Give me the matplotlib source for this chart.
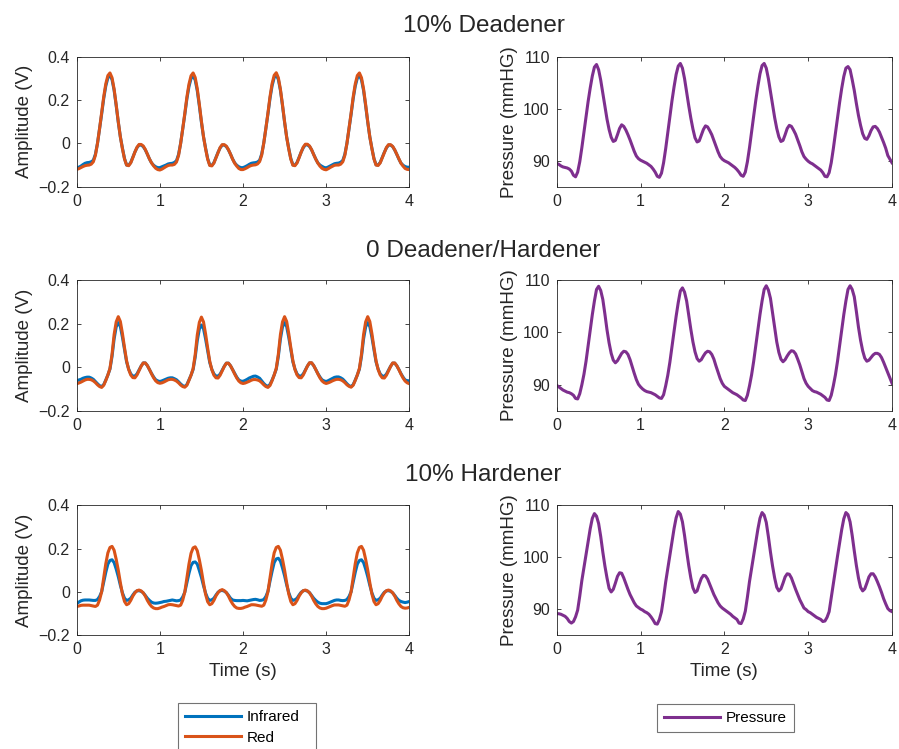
import matplotlib
matplotlib.use("Agg")
import matplotlib.pyplot as plt
import numpy as np

plt.rcParams["font.family"] = ["Liberation Sans", "DejaVu Sans"]

# sampling times (s), one value every 0.025 s
time_s = np.linspace(0, 4, 161)

row_titles = ["10% Deadener", "0 Deadener/Hardener", "10% Hardener"]

# ---- 10% Deadener ----
dead_ir = [
    -0.115, -0.110, -0.105, -0.098, -0.092, -0.089, -0.088, -0.085, -0.078, -0.050,
    0.000, 0.066, 0.135, 0.207, 0.265, 0.302, 0.315, 0.294, 0.245, 0.174,
    0.098, 0.030, -0.022, -0.070, -0.100, -0.101, -0.088, -0.064, -0.040, -0.020,
    -0.008, -0.008, -0.015, -0.030, -0.050, -0.072, -0.090, -0.101, -0.108, -0.112,
    -0.112, -0.108, -0.104, -0.100, -0.095, -0.093, -0.092, -0.088, -0.080, -0.051,
    0.000, 0.065, 0.133, 0.205, 0.262, 0.299, 0.312, 0.292, 0.243, 0.173,
    0.097, 0.030, -0.022, -0.070, -0.100, -0.102, -0.089, -0.065, -0.041, -0.021,
    -0.008, -0.008, -0.015, -0.030, -0.050, -0.072, -0.090, -0.101, -0.108, -0.112,
    -0.112, -0.108, -0.103, -0.097, -0.092, -0.090, -0.089, -0.086, -0.078, -0.049,
    0.002, 0.068, 0.136, 0.208, 0.266, 0.303, 0.316, 0.295, 0.245, 0.174,
    0.098, 0.029, -0.023, -0.070, -0.099, -0.100, -0.088, -0.064, -0.040, -0.020,
    -0.007, -0.007, -0.014, -0.030, -0.051, -0.072, -0.090, -0.100, -0.106, -0.111,
    -0.113, -0.109, -0.104, -0.099, -0.094, -0.092, -0.091, -0.087, -0.079, -0.050,
    0.000, 0.066, 0.134, 0.206, 0.264, 0.301, 0.314, 0.293, 0.244, 0.173,
    0.098, 0.030, -0.022, -0.070, -0.099, -0.100, -0.088, -0.064, -0.041, -0.021,
    -0.008, -0.008, -0.015, -0.031, -0.051, -0.073, -0.091, -0.101, -0.107, -0.110,
    -0.110,
]
dead_red = [
    -0.120, -0.117, -0.112, -0.107, -0.103, -0.101, -0.100, -0.096, -0.085, -0.055,
    0.000, 0.068, 0.140, 0.215, 0.275, 0.313, 0.325, 0.303, 0.250, 0.178,
    0.100, 0.030, -0.025, -0.072, -0.100, -0.103, -0.090, -0.066, -0.040, -0.018,
    -0.005, -0.005, -0.012, -0.028, -0.050, -0.072, -0.090, -0.104, -0.115, -0.121,
    -0.123, -0.119, -0.113, -0.107, -0.102, -0.100, -0.100, -0.097, -0.086, -0.056,
    0.000, 0.067, 0.138, 0.213, 0.273, 0.312, 0.325, 0.304, 0.252, 0.180,
    0.102, 0.031, -0.025, -0.073, -0.102, -0.104, -0.091, -0.067, -0.042, -0.019,
    -0.006, -0.006, -0.013, -0.029, -0.050, -0.073, -0.092, -0.105, -0.116, -0.121,
    -0.121, -0.117, -0.112, -0.106, -0.102, -0.100, -0.099, -0.095, -0.084, -0.054,
    0.002, 0.069, 0.140, 0.216, 0.276, 0.314, 0.326, 0.303, 0.250, 0.178,
    0.100, 0.029, -0.026, -0.073, -0.101, -0.103, -0.090, -0.066, -0.040, -0.017,
    -0.004, -0.004, -0.012, -0.029, -0.052, -0.073, -0.091, -0.105, -0.115, -0.120,
    -0.122, -0.117, -0.111, -0.106, -0.101, -0.100, -0.100, -0.096, -0.085, -0.055,
    0.000, 0.068, 0.139, 0.214, 0.274, 0.313, 0.325, 0.303, 0.251, 0.179,
    0.101, 0.030, -0.024, -0.072, -0.100, -0.102, -0.090, -0.066, -0.041, -0.019,
    -0.006, -0.006, -0.014, -0.030, -0.051, -0.073, -0.092, -0.105, -0.116, -0.120,
    -0.121,
]
dead_press = [
    89.5, 89.3, 89.0, 88.8, 88.7, 88.6, 88.4, 88.0, 87.2, 86.9,
    87.8, 89.8, 92.5, 95.5, 98.5, 101.4, 104.0, 106.3, 108.0, 108.5,
    107.5, 105.5, 103.0, 100.4, 98.0, 96.0, 94.5, 93.7, 93.9, 95.0,
    96.2, 96.9, 96.6, 95.9, 95.0, 94.0, 92.9, 91.8, 90.9, 90.4,
    90.1, 89.9, 89.7, 89.5, 89.2, 88.9, 88.4, 87.8, 87.0, 86.8,
    87.6, 89.6, 92.3, 95.4, 98.5, 101.5, 104.2, 106.6, 108.2, 108.7,
    107.8, 105.8, 103.2, 100.6, 98.2, 96.1, 94.4, 93.6, 93.8, 94.9,
    96.0, 96.7, 96.5, 95.8, 95.0, 93.9, 92.8, 91.7, 90.8, 90.3,
    90.0, 89.8, 89.6, 89.3, 89.0, 88.7, 88.3, 87.8, 87.2, 87.0,
    87.8, 89.8, 92.5, 95.6, 98.6, 101.6, 104.3, 106.7, 108.3, 108.7,
    107.8, 105.8, 103.3, 100.7, 98.3, 96.2, 94.6, 93.7, 93.9, 95.0,
    96.2, 96.8, 96.6, 95.9, 95.1, 94.0, 92.9, 91.7, 90.8, 90.3,
    89.9, 89.6, 89.4, 89.1, 88.8, 88.5, 88.2, 87.7, 87.0, 86.9,
    87.7, 89.6, 92.3, 95.3, 98.3, 101.2, 103.9, 106.2, 107.8, 108.1,
    107.5, 105.6, 103.5, 101.0, 98.7, 96.8, 95.2, 94.3, 94.1, 94.8,
    95.8, 96.5, 96.6, 96.2, 95.5, 94.5, 93.5, 92.4, 91.0, 90.3,
    89.6,
]

# ---- 0 Deadener/Hardener ----
neutral_ir = [
    -0.062, -0.058, -0.055, -0.050, -0.047, -0.045, -0.045, -0.049, -0.055, -0.065,
    -0.075, -0.084, -0.088, -0.079, -0.058, -0.035, -0.008, 0.050, 0.130, 0.185,
    0.205, 0.187, 0.138, 0.080, 0.025, -0.008, -0.030, -0.040, -0.040, -0.030,
    -0.012, 0.006, 0.020, 0.020, 0.008, -0.010, -0.028, -0.044, -0.057, -0.062,
    -0.065, -0.062, -0.058, -0.054, -0.050, -0.048, -0.048, -0.052, -0.057, -0.066,
    -0.076, -0.084, -0.088, -0.079, -0.058, -0.036, -0.010, 0.046, 0.122, 0.175,
    0.194, 0.177, 0.130, 0.075, 0.022, -0.009, -0.030, -0.040, -0.040, -0.031,
    -0.013, 0.005, 0.019, 0.019, 0.007, -0.010, -0.028, -0.045, -0.058, -0.063,
    -0.064, -0.060, -0.055, -0.049, -0.045, -0.041, -0.040, -0.044, -0.050, -0.062,
    -0.074, -0.083, -0.087, -0.078, -0.058, -0.035, -0.008, 0.050, 0.130, 0.185,
    0.205, 0.187, 0.138, 0.080, 0.025, -0.008, -0.030, -0.040, -0.040, -0.030,
    -0.012, 0.006, 0.020, 0.020, 0.008, -0.010, -0.028, -0.044, -0.057, -0.062,
    -0.065, -0.061, -0.056, -0.051, -0.046, -0.044, -0.044, -0.048, -0.054, -0.064,
    -0.075, -0.084, -0.088, -0.079, -0.058, -0.035, -0.008, 0.050, 0.130, 0.185,
    0.205, 0.187, 0.138, 0.080, 0.025, -0.008, -0.030, -0.040, -0.041, -0.031,
    -0.013, 0.005, 0.019, 0.019, 0.007, -0.010, -0.029, -0.045, -0.058, -0.061,
    -0.062,
]
neutral_red = [
    -0.075, -0.072, -0.068, -0.063, -0.058, -0.055, -0.055, -0.057, -0.062, -0.070,
    -0.080, -0.088, -0.092, -0.082, -0.060, -0.035, -0.005, 0.060, 0.150, 0.208,
    0.232, 0.210, 0.155, 0.090, 0.030, -0.010, -0.035, -0.047, -0.048, -0.035,
    -0.015, 0.005, 0.020, 0.020, 0.008, -0.010, -0.030, -0.048, -0.062, -0.070,
    -0.073, -0.071, -0.067, -0.062, -0.057, -0.055, -0.055, -0.058, -0.063, -0.071,
    -0.081, -0.088, -0.091, -0.082, -0.060, -0.036, -0.006, 0.058, 0.148, 0.206,
    0.230, 0.208, 0.153, 0.088, 0.028, -0.011, -0.036, -0.048, -0.049, -0.036,
    -0.016, 0.004, 0.019, 0.019, 0.007, -0.011, -0.031, -0.049, -0.063, -0.071,
    -0.074, -0.072, -0.068, -0.064, -0.059, -0.056, -0.056, -0.058, -0.062, -0.070,
    -0.080, -0.088, -0.092, -0.083, -0.061, -0.035, -0.005, 0.060, 0.150, 0.208,
    0.232, 0.210, 0.155, 0.090, 0.030, -0.010, -0.035, -0.047, -0.048, -0.035,
    -0.015, 0.006, 0.021, 0.021, 0.008, -0.010, -0.030, -0.048, -0.062, -0.070,
    -0.074, -0.071, -0.067, -0.062, -0.058, -0.055, -0.055, -0.057, -0.062, -0.070,
    -0.080, -0.087, -0.091, -0.082, -0.060, -0.035, -0.005, 0.060, 0.150, 0.208,
    0.232, 0.210, 0.155, 0.090, 0.030, -0.010, -0.035, -0.048, -0.049, -0.036,
    -0.016, 0.004, 0.020, 0.020, 0.007, -0.011, -0.031, -0.049, -0.063, -0.071,
    -0.075,
]
neutral_press = [
    89.9, 89.6, 89.3, 89.0, 88.8, 88.6, 88.5, 88.3, 88.0, 87.4,
    87.3, 88.3, 90.0, 92.0, 94.5, 97.5, 100.5, 103.4, 106.0, 108.2,
    108.8, 108.0, 106.3, 103.5, 100.5, 98.0, 96.0, 94.7, 94.2, 94.6,
    95.3, 96.0, 96.4, 96.3, 95.8, 94.8, 93.5, 92.2, 91.0, 90.1,
    89.6, 89.2, 88.9, 88.7, 88.6, 88.5, 88.3, 88.1, 87.8, 87.5,
    87.4, 88.1, 89.8, 91.8, 94.3, 97.3, 100.2, 103.1, 105.7, 107.9,
    108.5, 107.7, 106.0, 103.3, 100.6, 98.2, 96.3, 95.0, 94.5, 94.8,
    95.5, 96.1, 96.4, 96.3, 95.8, 94.9, 93.6, 92.4, 91.2, 90.3,
    89.7, 89.4, 89.1, 88.8, 88.5, 88.3, 88.1, 87.8, 87.5, 87.1,
    87.0, 88.0, 89.8, 91.9, 94.5, 97.5, 100.5, 103.4, 106.0, 108.2,
    108.9, 108.1, 106.5, 103.7, 100.8, 98.2, 96.2, 94.9, 94.4, 94.8,
    95.5, 96.1, 96.5, 96.4, 95.9, 94.9, 93.8, 92.5, 91.2, 90.3,
    89.7, 89.3, 88.9, 88.7, 88.6, 88.4, 88.2, 87.9, 87.6, 87.1,
    87.0, 88.0, 89.8, 91.9, 94.5, 97.5, 100.5, 103.4, 106.0, 108.2,
    108.9, 108.2, 106.8, 104.0, 101.0, 98.5, 96.5, 95.1, 94.5, 94.7,
    95.2, 95.7, 96.0, 96.0, 95.8, 95.2, 94.3, 93.3, 92.3, 91.3,
    90.3,
]

# ---- 10% Hardener ----
hard_ir = [
    -0.055, -0.048, -0.042, -0.039, -0.038, -0.038, -0.038, -0.039, -0.040, -0.040,
    -0.036, -0.022, 0.000, 0.045, 0.090, 0.128, 0.145, 0.148, 0.135, 0.105,
    0.070, 0.030, -0.005, -0.030, -0.040, -0.037, -0.030, -0.015, -0.002, 0.004,
    0.005, 0.002, -0.005, -0.017, -0.030, -0.040, -0.048, -0.052, -0.053, -0.052,
    -0.050, -0.048, -0.045, -0.044, -0.042, -0.040, -0.038, -0.040, -0.042, -0.041,
    -0.038, -0.024, -0.002, 0.042, 0.085, 0.121, 0.136, 0.138, 0.128, 0.098,
    0.066, 0.028, -0.006, -0.030, -0.040, -0.037, -0.030, -0.015, -0.002, 0.005,
    0.006, 0.003, -0.004, -0.016, -0.030, -0.038, -0.040, -0.041, -0.041, -0.041,
    -0.040, -0.041, -0.042, -0.040, -0.038, -0.036, -0.035, -0.037, -0.040, -0.039,
    -0.036, -0.022, 0.002, 0.050, 0.095, 0.135, 0.152, 0.155, 0.142, 0.110,
    0.074, 0.032, -0.004, -0.030, -0.040, -0.037, -0.030, -0.015, -0.002, 0.005,
    0.006, 0.003, -0.004, -0.017, -0.030, -0.040, -0.048, -0.053, -0.055, -0.055,
    -0.055, -0.052, -0.048, -0.044, -0.040, -0.038, -0.038, -0.040, -0.041, -0.040,
    -0.036, -0.022, 0.000, 0.045, 0.090, 0.128, 0.145, 0.148, 0.135, 0.105,
    0.070, 0.030, -0.005, -0.030, -0.040, -0.037, -0.030, -0.015, -0.002, 0.004,
    0.005, 0.002, -0.005, -0.017, -0.030, -0.040, -0.045, -0.048, -0.050, -0.048,
    -0.045,
]
hard_red = [
    -0.068, -0.066, -0.063, -0.062, -0.062, -0.062, -0.062, -0.064, -0.066, -0.068,
    -0.062, -0.038, 0.000, 0.065, 0.130, 0.180, 0.205, 0.210, 0.192, 0.150,
    0.100, 0.042, -0.010, -0.045, -0.060, -0.055, -0.040, -0.020, -0.005, 0.005,
    0.008, 0.004, -0.005, -0.020, -0.040, -0.056, -0.068, -0.075, -0.078, -0.078,
    -0.075, -0.071, -0.068, -0.064, -0.060, -0.059, -0.060, -0.062, -0.064, -0.066,
    -0.062, -0.039, -0.001, 0.063, 0.128, 0.178, 0.203, 0.208, 0.190, 0.148,
    0.098, 0.040, -0.012, -0.046, -0.060, -0.055, -0.040, -0.019, -0.004, 0.006,
    0.010, 0.005, -0.004, -0.020, -0.040, -0.056, -0.068, -0.075, -0.077, -0.077,
    -0.075, -0.071, -0.068, -0.064, -0.060, -0.060, -0.061, -0.063, -0.065, -0.067,
    -0.062, -0.038, 0.000, 0.065, 0.130, 0.180, 0.205, 0.210, 0.192, 0.150,
    0.100, 0.042, -0.010, -0.045, -0.060, -0.055, -0.040, -0.020, -0.005, 0.005,
    0.008, 0.004, -0.005, -0.020, -0.040, -0.056, -0.068, -0.075, -0.078, -0.078,
    -0.076, -0.072, -0.068, -0.064, -0.061, -0.061, -0.061, -0.063, -0.065, -0.067,
    -0.062, -0.038, 0.000, 0.065, 0.130, 0.180, 0.205, 0.210, 0.192, 0.150,
    0.100, 0.042, -0.010, -0.045, -0.060, -0.055, -0.040, -0.020, -0.005, 0.005,
    0.008, 0.004, -0.005, -0.020, -0.040, -0.056, -0.068, -0.074, -0.076, -0.075,
    -0.072,
]
hard_press = [
    89.1, 89.1, 89.0, 88.8, 88.6, 88.2, 87.6, 87.3, 87.6, 88.5,
    89.8, 92.5, 95.5, 98.0, 100.5, 103.0, 105.5, 107.5, 108.4, 107.9,
    106.5, 104.0, 101.0, 98.3, 96.0, 94.0, 93.3, 93.8, 95.0, 96.3,
    97.0, 96.9, 96.0, 94.9, 93.8, 92.8, 92.0, 91.2, 90.6, 90.3,
    90.0, 89.8, 89.5, 89.3, 89.0, 88.5, 87.9, 87.2, 87.1, 88.0,
    89.5, 92.2, 95.2, 97.8, 100.3, 102.9, 105.5, 107.6, 108.8, 108.3,
    106.8, 104.2, 101.2, 98.4, 96.0, 94.1, 93.2, 93.5, 94.8, 95.9,
    96.5, 96.4, 95.8, 94.8, 93.8, 92.8, 92.0, 91.2, 90.6, 90.2,
    89.9, 89.6, 89.3, 89.0, 88.6, 88.3, 88.0, 87.3, 87.2, 88.1,
    89.6, 92.3, 95.3, 97.8, 100.3, 102.9, 105.4, 107.5, 108.6, 108.1,
    106.7, 104.0, 101.0, 98.3, 96.0, 94.2, 93.5, 93.9, 95.0, 96.2,
    96.8, 96.7, 96.0, 94.9, 93.8, 92.8, 91.8, 91.0, 90.2, 89.9,
    89.5, 89.3, 89.0, 88.7, 88.4, 88.2, 88.0, 87.6, 87.7, 88.4,
    89.5, 92.2, 95.0, 97.6, 100.2, 102.8, 105.3, 107.4, 108.6, 108.2,
    106.8, 104.2, 101.2, 98.4, 96.0, 94.2, 93.5, 93.9, 95.0, 96.2,
    96.8, 96.8, 96.2, 95.3, 94.3, 93.2, 92.0, 91.0, 90.1, 89.7,
    89.5,
]

ir_rows = [dead_ir, neutral_ir, hard_ir]
red_rows = [dead_red, neutral_red, hard_red]
press_rows = [dead_press, neutral_press, hard_press]

amp_ticks = [-0.2, 0, 0.2, 0.4]
press_ticks = [90, 100, 110]
time_ticks = [0, 1, 2, 3, 4]

C_IR = "#0072BD"
C_RED = "#D95319"
C_PRESS = "#7E2F8E"
AX_GRAY = "0.15"

W, H = 899, 749
fig = plt.figure(figsize=(W / 100, H / 100), dpi=100)

# axes boxes in pixels: (left, right) and (top, bottom)
left_px = (76.7, 409.3)
right_px = (556.7, 892.0)
rows_px = [(56.7, 186.7), (280.0, 411.0), (505.3, 635.0)]
title_base_px = [32.0, 256.7, 481.3]


def frac_box(xs, ys):
    return [xs[0] / W, 1 - ys[1] / H, (xs[1] - xs[0]) / W, (ys[1] - ys[0]) / H]


def style(ax):
    for sp in ax.spines.values():
        sp.set_color(AX_GRAY)
        sp.set_linewidth(0.6)
    ax.tick_params(direction="in", length=3, width=0.6, colors=AX_GRAY,
                   top=True, right=True, labelsize=11.5, pad=5)
    ax.set_xlim(0, 4)
    ax.set_xticks(time_ticks)


for r in range(3):
    axl = fig.add_axes(frac_box(left_px, rows_px[r]))
    h_ir, = axl.plot(time_s, ir_rows[r], color=C_IR, lw=2.2, label="Infrared")
    h_red, = axl.plot(time_s, red_rows[r], color=C_RED, lw=2.2, label="Red")
    axl.set_ylim(-0.2, 0.4)
    axl.set_yticks(amp_ticks)
    axl.set_yticklabels(["\u22120.2", "0", "0.2", "0.4"])
    axl.set_ylabel("Amplitude (V)", fontsize=13.5, color=AX_GRAY, labelpad=4)
    style(axl)

    axr = fig.add_axes(frac_box(right_px, rows_px[r]))
    h_p, = axr.plot(time_s, press_rows[r], color=C_PRESS, lw=2.2, label="Pressure")
    axr.set_ylim(85, 110)
    axr.set_yticks(press_ticks)
    axr.set_ylabel("Pressure (mmHG)", fontsize=13.5, color=AX_GRAY, labelpad=4)
    style(axr)

    if r == 2:
        axl.set_xlabel("Time (s)", fontsize=13.5, color=AX_GRAY)
        axr.set_xlabel("Time (s)", fontsize=13.5, color=AX_GRAY)

    fig.text(483.5 / W, 1 - title_base_px[r] / H, row_titles[r], fontsize=17.5,
             color=AX_GRAY, ha="center", va="baseline")

leg_kw = dict(fontsize=11, frameon=True, fancybox=False, framealpha=1,
              edgecolor="0.45", handlelength=3.7, handletextpad=0.35,
              borderpad=0.45, labelspacing=0.45, borderaxespad=0,
              loc="upper left")
# left legend box is as wide as the right one (MATLAB sizing)
leg1 = fig.legend([h_ir, h_red], ["Infrared", "Red"], mode="expand",
                  bbox_to_anchor=(178 / W, 1 - 703 / H, 138 / W, 0), **leg_kw)
leg2 = fig.legend([h_p], ["Pressure"],
                  bbox_to_anchor=(657 / W, 1 - 704 / H), **leg_kw)
for leg in (leg1, leg2):
    leg.get_frame().set_linewidth(0.8)

fig.savefig("out.png", dpi=100)
